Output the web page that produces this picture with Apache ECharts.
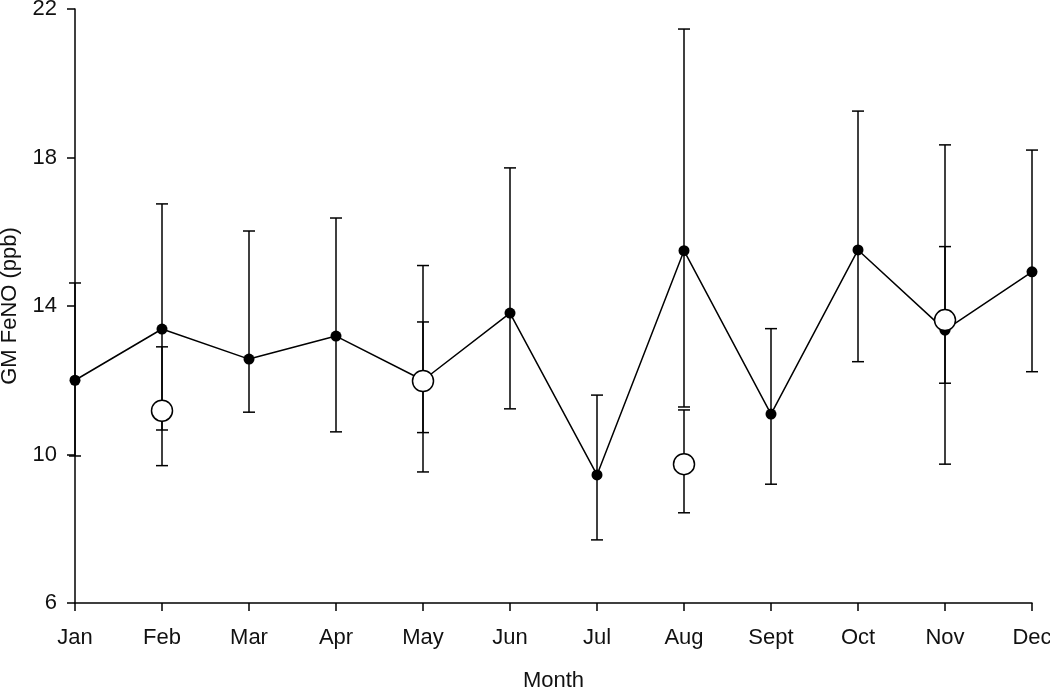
<!DOCTYPE html>
<html>
<head>
<meta charset="utf-8">
<script src="https://cdn.jsdelivr.net/npm/echarts@6/dist/echarts.min.js"></script>
<style>
  html, body { margin: 0; padding: 0; background: #fff; }
  #main { width: 1050px; height: 690px; }
</style>
</head>
<body>
<div id="main"></div>
<script>
// data
var months = ['Jan', 'Feb', 'Mar', 'Apr', 'May', 'Jun', 'Jul', 'Aug', 'Sept', 'Oct', 'Nov', 'Dec']
var gmFeNO = [12.0, 13.38, 12.57, 13.19, 12.0, 13.81, 9.45, 15.49, 11.09, 15.51, 13.35, 14.92]
var gmLow = [9.96, 9.7, 11.14, 10.61, 9.53, 11.23, 7.7, 11.28, 9.2, 12.5, 9.74, 12.23]
var gmHigh = [14.62, 16.75, 16.02, 16.37, 15.09, 17.72, 11.6, 21.46, 13.39, 19.25, 18.34, 18.2]

// second group (open circles)
var subMonths = ['Feb', 'May', 'Aug', 'Nov']
var subGm = [11.18, 11.98, 9.74, 13.62]
var subLow = [10.66, 10.59, 8.43, 11.92]
var subHigh = [12.9, 13.57, 11.2, 15.6]

var yTicks = [6, 10, 14, 18, 22]

var font = 'Liberation Sans, Arial, sans-serif'

var errMain = months.map(function (m, i) { return [i, gmLow[i], gmHigh[i]] })
var errSub = subMonths.map(function (m, i) { return [months.indexOf(m), subLow[i], subHigh[i]] })
var subPoints = subMonths.map(function (m, i) { return [months.indexOf(m), subGm[i]] })

// vertical bar with caps
function errorBar(params, api) {
  var x = api.value(0)
  var lo = api.coord([x, api.value(1)])
  var hi = api.coord([x, api.value(2)])
  var w = 6
  var st = { stroke: '#000', lineWidth: 1.5 }
  return {
    type: 'group',
    children: [
      { type: 'line', shape: { x1: lo[0], y1: lo[1], x2: hi[0], y2: hi[1] }, style: st },
      { type: 'line', shape: { x1: lo[0] - w, y1: lo[1], x2: lo[0] + w, y2: lo[1] }, style: st },
      { type: 'line', shape: { x1: hi[0] - w, y1: hi[1], x2: hi[0] + w, y2: hi[1] }, style: st }
    ]
  }
}

var myChart = echarts.init(document.getElementById('main'))

var option = {
  backgroundColor: '#fff',
  animation: false,
  grid: { left: 75, right: 18, top: 9, bottom: 87, containLabel: false, outerBoundsMode: 'none' },
  xAxis: {
    type: 'category',
    data: months,
    boundaryGap: false,
    name: 'Month',
    nameLocation: 'middle',
    nameGap: 67,
    nameTextStyle: { fontFamily: font, fontSize: 22, color: '#111' },
    axisLine: { lineStyle: { color: '#000', width: 1.5 } },
    axisTick: { alignWithLabel: true, length: 8, lineStyle: { color: '#000', width: 1.5 } },
    axisLabel: { fontFamily: font, fontSize: 22, color: '#111', margin: 24 },
    splitLine: { show: false }
  },
  yAxis: {
    type: 'value',
    min: yTicks[0],
    max: yTicks[yTicks.length - 1],
    interval: 4,
    name: 'GM FeNO (ppb)',
    nameLocation: 'middle',
    nameGap: 54,
    nameTextStyle: { fontFamily: font, fontSize: 22, color: '#111' },
    axisLine: { show: true, lineStyle: { color: '#000', width: 1.5 } },
    axisTick: { show: true, length: 8, lineStyle: { color: '#000', width: 1.5 } },
    axisLabel: { fontFamily: font, fontSize: 22, color: '#111', margin: 18 },
    splitLine: { show: false }
  },
  series: [
    {
      type: 'custom',
      renderItem: errorBar,
      data: errMain,
      z: 1
    },
    {
      type: 'custom',
      renderItem: errorBar,
      data: errSub,
      z: 1
    },
    {
      type: 'line',
      data: gmFeNO,
      symbol: 'circle',
      symbolSize: 11,
      itemStyle: { color: '#000' },
      lineStyle: { color: '#000', width: 1.5 },
      z: 2
    },
    {
      type: 'scatter',
      data: subPoints,
      symbol: 'circle',
      symbolSize: 21,
      itemStyle: { color: '#fff', borderColor: '#000', borderWidth: 1.5, opacity: 1 },
      z: 3
    }
  ]
}

myChart.setOption(option)
</script>
</body>
</html>
